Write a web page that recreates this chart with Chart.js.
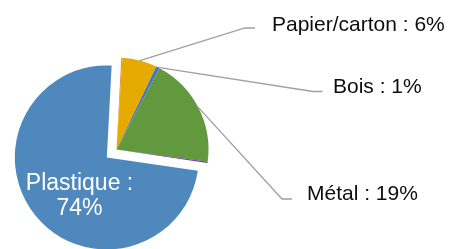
<!DOCTYPE html>
<html>
<head>
<meta charset="utf-8">
<script src="https://cdn.jsdelivr.net/npm/chart.js@4/dist/chart.umd.min.js"></script>
<style>
  html, body { margin: 0; padding: 0; background: #fff; }
  #wrap { width: 458px; height: 249px; position: relative; }
</style>
</head>
<body>
<div id="wrap"><canvas id="pieChart"></canvas></div>
<script>
// Composition (% of total), clockwise from the top
const categories = ["Verre", "Papier/carton", "Bois", "Métal", "Textile", "Plastique"]
const shares = [0.2, 6.1, 0.6, 19.4, 0.2, 73.5]
const sliceColors = ["#ED7D31", "#E5AA00", "#4472C4", "#62993E", "#7030A0", "#4F88BD"]

// Pulled-out slice distance (px), per slice
const explode = [0, 0, 0, 0, 0, 12.5]

// Data label placement (Excel style call-outs), null = no label
const labelLayout = [
  null,
  { textX: 272, baseline: 31, lineY: 28, elbowX: 245, endX: 255 },
  { textX: 333, baseline: 92.5, lineY: 91.5, elbowX: 313, endX: 322.5 },
  { textX: 307, baseline: 200, lineY: 199, elbowX: 282, endX: 292 },
  null,
  { inside: true, x: 79.5, baseline: 190, lineGap: 25 }
]

const explodePlugin = {
  id: "explode",
  afterDatasetsUpdate(chart) {
    const meta = chart.getDatasetMeta(0)
    explode.forEach((d, i) => {
      if (!d) return
      const el = meta.data[i]
      const mid = (el.startAngle + el.endAngle) / 2
      el.x += Math.cos(mid) * d
      el.y += Math.sin(mid) * d
    })
  }
}

const labelPlugin = {
  id: "sliceLabels",
  afterDatasetsDraw(chart) {
    const ctx = chart.ctx
    const meta = chart.getDatasetMeta(0)
    ctx.save()
    labelLayout.forEach((lay, i) => {
      if (!lay) return
      const el = meta.data[i]
      const pct = Math.round(shares[i]) + "%"
      if (lay.inside) {
        ctx.fillStyle = "#ffffff"
        ctx.font = "23px 'Liberation Sans', Arial, sans-serif"
        ctx.textAlign = "center"
        ctx.textBaseline = "alphabetic"
        ctx.fillText(categories[i] + " :", lay.x, lay.baseline)
        ctx.fillText(pct, lay.x, lay.baseline + lay.lineGap)
        return
      }
      const mid = (el.startAngle + el.endAngle) / 2
      const sx = el.x + Math.cos(mid) * el.outerRadius
      const sy = el.y + Math.sin(mid) * el.outerRadius
      ctx.strokeStyle = "#A0A0A0"
      ctx.lineWidth = 1.3
      ctx.beginPath()
      ctx.moveTo(sx, sy)
      ctx.lineTo(lay.elbowX, lay.lineY)
      ctx.lineTo(lay.endX, lay.lineY)
      ctx.stroke()

      ctx.fillStyle = "#0d0d0d"
      ctx.font = "21px 'Liberation Sans', Arial, sans-serif"
      ctx.textAlign = "left"
      ctx.textBaseline = "alphabetic"
      ctx.fillText(categories[i] + " : " + pct, lay.textX, lay.baseline)
    })
    ctx.restore()
  }
}

const ctx = document.getElementById("pieChart").getContext("2d")
new Chart(ctx, {
  type: "pie",
  data: {
    labels: categories,
    datasets: [{
      data: shares,
      backgroundColor: sliceColors,
      borderWidth: 0,
      clip: false
    }]
  },
  options: {
    responsive: true,
    maintainAspectRatio: false,
    animation: false,
    rotation: 3,
    radius: 92,
    layout: {
      padding: { left: 0, right: 225, top: 50, bottom: 0 }
    },
    plugins: {
      legend: { display: false },
      tooltip: { enabled: false }
    }
  },
  plugins: [explodePlugin, labelPlugin]
})
</script>
</body>
</html>
